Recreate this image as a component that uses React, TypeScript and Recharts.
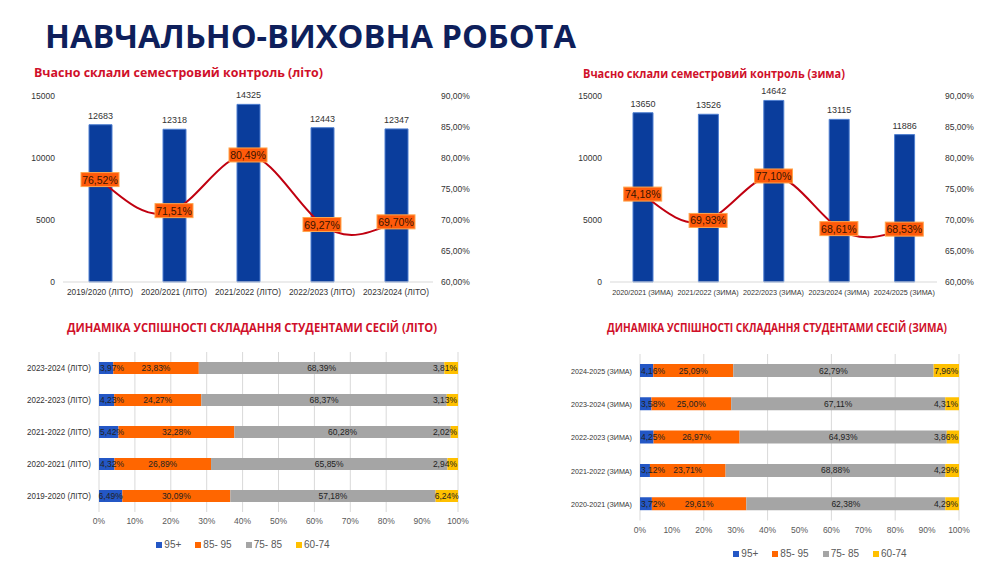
import {
  Bar,
  BarChart,
  CartesianGrid,
  ComposedChart,
  LabelList,
  Legend,
  Line,
  XAxis,
  YAxis,
} from "recharts";

// top charts: students who passed semester control on time
const summerYears = ["2019/2020 (ЛІТО)", "2020/2021 (ЛІТО)", "2021/2022 (ЛІТО)", "2022/2023 (ЛІТО)", "2023/2024 (ЛІТО)"];
const summerCount = [12683, 12318, 14325, 12443, 12347];
const summerPct = [76.52, 71.51, 80.49, 69.27, 69.7];

const winterYears = ["2020/2021 (ЗИМА)", "2021/2022 (ЗИМА)", "2022/2023 (ЗИМА)", "2023/2024 (ЗИМА)", "2024/2025 (ЗИМА)"];
const winterCount = [13650, 13526, 14642, 13115, 11886];
const winterPct = [74.18, 69.93, 77.1, 68.61, 68.53];

// bottom charts: session results by grade band (top row first)
const summerSessions = ["2023-2024 (ЛІТО)", "2022-2023 (ЛІТО)", "2021-2022 (ЛІТО)", "2020-2021 (ЛІТО)", "2019-2020 (ЛІТО)"];
const summer95 = [3.97, 4.23, 5.42, 4.32, 6.49];
const summer85 = [23.83, 24.27, 32.28, 26.89, 30.09];
const summer75 = [68.39, 68.37, 60.28, 65.85, 57.18];
const summer60 = [3.81, 3.13, 2.02, 2.94, 6.24];

const winterSessions = ["2024-2025 (ЗИМА)", "2023-2024 (ЗИМА)", "2022-2023 (ЗИМА)", "2021-2022 (ЗИМА)", "2020-2021 (ЗИМА)"];
const winter95 = [4.16, 3.58, 4.25, 3.12, 3.72];
const winter85 = [25.09, 25.0, 26.97, 23.71, 29.61];
const winter75 = [62.79, 67.11, 64.93, 68.88, 62.38];
const winter60 = [7.96, 4.31, 3.86, 4.29, 4.29];

const countTicks = [0, 5000, 10000, 15000];
const pctTicks = [60, 65, 70, 75, 80, 85, 90];
const shareTicks = [0, 10, 20, 30, 40, 50, 60, 70, 80, 90, 100];
const bands = ["95+", "85- 95", "75- 85", "60-74"];

const NAVY = "#0e1f5b";
const RED = "#d0102a";
const BAR = "#0a3d9c";
const TXT = "#333";
const AXIS = "#595959";
const GRID = "#d9d9d9";
const FONT = "'Liberation Sans', Arial, sans-serif";
const HEAD = "'Open Sans', sans-serif";
const BAND_COLORS = ["#2457c5", "#ff6600", "#a5a5a5", "#ffc000"];

const comma = (v: number, d = 2) => v.toFixed(d).replace(".", ",");

function PctBox(props: any) {
  const { x, y, value } = props;
  if (x == null || y == null) return null;
  return (
    <g>
      <rect x={x - 19} y={y - 7} width={38} height={14} fill="#ff5a0a" stroke="#ffa64d" strokeWidth={1} />
      <text x={x} y={y + 4} textAnchor="middle" fontSize={10.5} fill="#3a1400" fontFamily={FONT}>
        {comma(value) + "%"}
      </text>
    </g>
  );
}

// segment label; like the original, labels of thin end segments are kept inside the plot
function SegLabel(props: any) {
  const { x, y, width, height, value, edge } = props;
  const txt = comma(Number(value)) + "%";
  const fs = 8.5;
  const tw = txt.length * fs * 0.52;
  let tx = x + width / 2;
  let anchor: "middle" | "start" | "end" = "middle";
  if (tw > width && edge === "start") {
    tx = x + 1;
    anchor = "start";
  } else if (tw > width && edge === "end") {
    tx = x + width - 1;
    anchor = "end";
  }
  return (
    <text x={tx} y={y + height / 2 + 3} textAnchor={anchor} fontSize={fs} fill="#222" fontFamily={FONT}>
      {txt}
    </text>
  );
}

// squeezed category tick, so long labels never wrap or collide
function FitTick(props: any) {
  const { x, y, payload, len, anchor, dy, size } = props;
  return (
    <text
      x={x}
      y={y}
      dy={dy}
      textAnchor={anchor}
      fontSize={size}
      fill={TXT}
      fontFamily={FONT}
      textLength={len}
      lengthAdjust="spacingAndGlyphs"
    >
      {payload.value}
    </text>
  );
}

function BandLegend() {
  return (
    <div style={{ display: "flex", justifyContent: "center", gap: 14, fontSize: 10, color: AXIS, fontFamily: FONT, lineHeight: "14px" }}>
      {bands.map((b, i) => (
        <span key={b} style={{ display: "flex", alignItems: "center", gap: 2 }}>
          <span style={{ width: 6, height: 6, background: BAND_COLORS[i], display: "inline-block" }} />
          {b}
        </span>
      ))}
    </div>
  );
}

function TopChart({
  left,
  width,
  years,
  counts,
  pcts,
  margin,
  rightW,
  barSize,
  tickLen,
  tickSize,
}: {
  left: number;
  width: number;
  years: string[];
  counts: number[];
  pcts: number[];
  margin: { top: number; right: number; left: number; bottom: number };
  rightW: number;
  barSize: number;
  tickLen: number;
  tickSize: number;
}) {
  const data = years.map((y, i) => ({ year: y, count: counts[i], pct: pcts[i] }));
  return (
    <div style={{ position: "absolute", left, top: 80 }}>
      <ComposedChart width={width} height={230} data={data} margin={margin}>
        <XAxis
          dataKey="year"
          height={22}
          tickSize={0}
          tickMargin={4}
          interval={0}
          stroke={GRID}
          tick={<FitTick len={tickLen} anchor="middle" dy={9} size={tickSize} />}
        />
        <YAxis
          yAxisId="l"
          width={50}
          domain={[0, 15000]}
          ticks={countTicks}
          axisLine={false}
          tickLine={false}
          tick={{ fill: TXT, fontSize: 8.5, fontFamily: FONT }}
        />
        <YAxis
          yAxisId="r"
          orientation="right"
          width={rightW}
          domain={[60, 90]}
          ticks={pctTicks}
          tickFormatter={(v: number) => comma(v) + "%"}
          axisLine={false}
          tickLine={false}
          tick={{ fill: TXT, fontSize: 8.5, fontFamily: FONT, textAnchor: "start" }}
        />
        <Bar yAxisId="l" dataKey="count" fill={BAR} stroke="#4f7fd0" strokeWidth={1} barSize={barSize} isAnimationActive={false}>
          <LabelList dataKey="count" position="top" offset={6} fill={TXT} fontSize={9} fontFamily={FONT} />
        </Bar>
        <Line
          yAxisId="r"
          dataKey="pct"
          type="natural"
          stroke="#c00010"
          strokeWidth={2}
          dot={false}
          isAnimationActive={false}
        >
          <LabelList dataKey="pct" content={<PctBox />} />
        </Line>
      </ComposedChart>
    </div>
  );
}

function ShareChart({
  left,
  top,
  width,
  height,
  rows,
  s95,
  s85,
  s75,
  s60,
  margin,
  yW,
  xH,
  barSize,
  legendLeft,
  rowLen,
  rowSize,
}: {
  left: number;
  top: number;
  width: number;
  height: number;
  rows: string[];
  s95: number[];
  s85: number[];
  s75: number[];
  s60: number[];
  margin: { top: number; right: number; left: number; bottom: number };
  yW: number;
  xH: number;
  barSize: number;
  legendLeft: number;
  rowLen: number;
  rowSize: number;
}) {
  const data = rows.map((r, i) => ({ row: r, a: s95[i], b: s85[i], c: s75[i], d: s60[i] }));
  const keys = ["a", "b", "c", "d"];
  return (
    <div style={{ position: "absolute", left, top }}>
      <BarChart width={width} height={height} data={data} layout="vertical" margin={margin}>
        <CartesianGrid horizontal={false} stroke={GRID} />
        <XAxis
          type="number"
          domain={[0, 100]}
          ticks={shareTicks}
          allowDataOverflow
          height={xH}
          tickSize={0}
          tickMargin={6}
          axisLine={false}
          tickFormatter={(v: number) => v + "%"}
          tick={{ fill: AXIS, fontSize: 8.5, fontFamily: FONT }}
        />
        <YAxis
          type="category"
          dataKey="row"
          width={yW}
          axisLine={false}
          tickLine={false}
          tick={<FitTick len={rowLen} anchor="end" dy={3} size={rowSize} />}
        />
        <Legend verticalAlign="bottom" wrapperStyle={{ left: legendLeft, width: 450 }} content={() => <BandLegend />} />
        {keys.map((k, i) => (
          <Bar key={k} dataKey={k} name={bands[i]} stackId="s" fill={BAND_COLORS[i]} barSize={barSize} isAnimationActive={false}>
            <LabelList
              dataKey={k}
              content={<SegLabel edge={i === 0 ? "start" : i === keys.length - 1 ? "end" : "mid"} />}
            />
          </Bar>
        ))}
      </BarChart>
    </div>
  );
}

export default function App() {
  return (
    <div
      style={{
        position: "absolute",
        left: 0,
        top: 0,
        width: 1000,
        height: 571,
        background: "#fff",
        overflow: "hidden",
        fontFamily: FONT,
      }}
    >
      <svg width={1000} height={571} style={{ position: "absolute", left: 0, top: 0 }}>
        <text x={45} y={48} fontSize={33} fontWeight={700} fill={NAVY} fontFamily={HEAD} textLength={531} lengthAdjust="spacingAndGlyphs">
          НАВЧАЛЬНО-ВИХОВНА РОБОТА
        </text>
        <text x={34} y={77} fontSize={13} fontWeight={700} fill={RED} fontFamily={HEAD} textLength={289} lengthAdjust="spacingAndGlyphs">
          Вчасно склали семестровий контроль (літо)
        </text>
        <text x={583} y={78} fontSize={12.5} fontWeight={700} fill={RED} fontFamily={HEAD} textLength={262} lengthAdjust="spacingAndGlyphs">
          Вчасно склали семестровий контроль (зима)
        </text>
        <text x={67} y={332} fontSize={12} fontWeight={700} fill={RED} fontFamily={HEAD} textLength={370} lengthAdjust="spacingAndGlyphs">
          ДИНАМІКА УСПІШНОСТІ СКЛАДАННЯ СТУДЕНТАМИ СЕСІЙ (ЛІТО)
        </text>
        <text x={607} y={332} fontSize={11.5} fontWeight={700} fill={RED} fontFamily={HEAD} textLength={340} lengthAdjust="spacingAndGlyphs">
          ДИНАМІКА УСПІШНОСТІ СКЛАДАННЯ СТУДЕНТАМИ СЕСІЙ (ЗИМА)
        </text>
      </svg>

      <TopChart
        left={0}
        width={480}
        years={summerYears}
        counts={summerCount}
        pcts={summerPct}
        margin={{ top: 16, right: 7, left: 13, bottom: 6 }}
        rightW={40}
        barSize={23}
        tickLen={66}
        tickSize={8.5}
      />
      <TopChart
        left={545}
        width={450}
        years={winterYears}
        counts={winterCount}
        pcts={winterPct}
        margin={{ top: 16, right: 8, left: 15, bottom: 6 }}
        rightW={50}
        barSize={20}
        tickLen={61}
        tickSize={7.5}
      />

      <ShareChart
        left={0}
        top={340}
        width={480}
        height={220}
        rows={summerSessions}
        s95={summer95}
        s85={summer85}
        s75={summer75}
        s60={summer60}
        margin={{ top: 12, right: 22, left: 8, bottom: 8 }}
        yW={91}
        xH={26}
        barSize={12}
        legendLeft={18}
        rowLen={64}
        rowSize={8.2}
      />
      <ShareChart
        left={545}
        top={342}
        width={450}
        height={228}
        rows={winterSessions}
        s95={winter95}
        s85={winter85}
        s75={winter75}
        s60={winter60}
        margin={{ top: 12, right: 36, left: 5, bottom: 9 }}
        yW={90}
        xH={26.5}
        barSize={13}
        legendLeft={50}
        rowLen={61}
        rowSize={7.6}
      />
    </div>
  );
}
